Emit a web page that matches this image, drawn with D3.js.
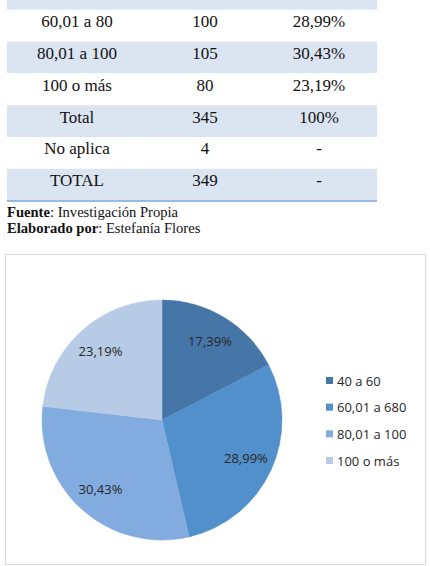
<!DOCTYPE html>
<html>
<head>
<meta charset="utf-8">
<script src="https://cdn.jsdelivr.net/npm/d3@7"></script>
<style>
  body { margin: 0; background: #fff; }
  svg { display: block; }
</style>
</head>
<body>
<div id="chart"></div>
<script>
// table rows (the header row is cut off at the top of the page)
const rowLabels = ["", "60,01 a 80", "80,01 a 100", "100 o más", "Total", "No aplica", "TOTAL"];
const rowCounts = ["", "100", "105", "80", "345", "4", "349"];
const rowPercents = ["", "28,99%", "30,43%", "23,19%", "100%", "-", "-"];

// pie data
const pieCategories = ["40 a 60", "60,01 a 680", "80,01 a 100", "100 o más"];
const pieValues = [60, 100, 105, 80];
const pieLabels = ["17,39%", "28,99%", "30,43%", "23,19%"];
const pieColors = ["#4676a8", "#5290cb", "#82acdf", "#b7cbe6"];

const W = 430, H = 566;
const svg = d3.select("#chart").append("svg")
  .attr("width", W)
  .attr("height", H);

// ---- table ----
let tbl = { left: 7, right: 377, top: -22, rowH: 31.8 };
let y = d3.scaleBand()
  .domain(d3.range(rowLabels.length))
  .range([tbl.top, tbl.top + tbl.rowH * rowLabels.length]);
let colX = [77, 205, 319];

let rows = svg.append("g").selectAll("g")
  .data(d3.range(rowLabels.length))
  .enter().append("g")
  .attr("transform", function (i) { return "translate(0," + y(i) + ")"; });

rows.append("rect")
  .attr("x", tbl.left)
  .attr("width", tbl.right - tbl.left)
  .attr("height", y.bandwidth())
  .attr("fill", function (i) { return i % 2 == 0 ? "#dbe5f1" : "#fff"; });

// very faint column dividers in the shaded rows
rows.filter(function (i) { return i % 2 == 0; })
  .selectAll("line.div")
  .data([138, 273])
  .enter().append("line")
  .attr("x1", function (d) { return d; })
  .attr("x2", function (d) { return d; })
  .attr("y1", 3)
  .attr("y2", y.bandwidth() - 3)
  .attr("stroke", "#dfe8f3")
  .attr("stroke-width", 1);

[rowLabels, rowCounts, rowPercents].forEach(function (col, c) {
  rows.append("text")
    .attr("x", colX[c])
    .attr("y", y.bandwidth() / 2 + 1.5)
    .attr("text-anchor", "middle")
    .attr("font-family", "'Liberation Serif', 'Times New Roman', serif")
    .attr("font-size", "17px")
    .attr("fill", "#111")
    .text(function (i) { return col[i]; });
});

let tblBottom = tbl.top + tbl.rowH * rowLabels.length;
svg.append("line")
  .attr("x1", tbl.left)
  .attr("x2", tbl.right)
  .attr("y1", tblBottom + 0.5)
  .attr("y2", tblBottom + 0.5)
  .attr("stroke", "#79a7dc")
  .attr("stroke-width", 1.5);

// source notes
let notes = [["Fuente", ": Investigación Propia", 216.5], ["Elaborado por", ": Estefanía Flores", 233]];
notes.forEach(function (n) {
  let t = svg.append("text")
    .attr("x", 7)
    .attr("y", n[2])
    .attr("font-family", "'Liberation Serif', 'Times New Roman', serif")
    .attr("font-size", "14.6px")
    .attr("fill", "#111");
  t.append("tspan").attr("font-weight", "bold").text(n[0]);
  t.append("tspan").text(n[1]);
});

// ---- chart box ----
svg.append("rect")
  .attr("x", 5.5)
  .attr("y", 254.5)
  .attr("width", 420)
  .attr("height", 310)
  .attr("fill", "#fff")
  .attr("stroke", "#d9d9d9")
  .attr("stroke-width", 1);

let cx = 162, cy = 420, R = 120;
let pie = d3.pie().sort(null).value(function (d) { return d; });
let arc = d3.arc().innerRadius(0).outerRadius(R);
let labelArc = d3.arc().innerRadius(R * 0.77).outerRadius(R * 0.77);
let arcs = pie(pieValues);

let g = svg.append("g").attr("transform", "translate(" + cx + "," + cy + ")");
g.selectAll("path")
  .data(arcs)
  .enter().append("path")
  .attr("d", arc)
  .attr("fill", function (d, i) { return pieColors[i]; })
  .attr("stroke", function (d, i) { return pieColors[i]; })
  .attr("stroke-width", 0.5);

g.selectAll("text")
  .data(arcs)
  .enter().append("text")
  .attr("transform", function (d) { return "translate(" + labelArc.centroid(d) + ")"; })
  .attr("dy", "0.35em")
  .attr("text-anchor", "middle")
  .attr("font-family", "'Open Sans', 'Liberation Sans', sans-serif")
  .attr("font-size", "13px")
  .attr("fill", "#262626")
  .text(function (d, i) { return pieLabels[i]; });

// legend
let ly = d3.scalePoint().domain(pieCategories).range([381, 461]);
let legend = svg.append("g").selectAll("g")
  .data(pieCategories)
  .enter().append("g")
  .attr("transform", function (d) { return "translate(326," + ly(d) + ")"; });
legend.append("rect")
  .attr("x", 0)
  .attr("y", -4)
  .attr("width", 7)
  .attr("height", 7)
  .attr("fill", function (d, i) { return pieColors[i]; });
legend.append("text")
  .attr("x", 11)
  .attr("y", 0)
  .attr("dy", "0.35em")
  .attr("font-family", "'Open Sans', 'Liberation Sans', sans-serif")
  .attr("font-size", "13px")
  .attr("fill", "#262626")
  .text(function (d) { return d; });
</script>
</body>
</html>
